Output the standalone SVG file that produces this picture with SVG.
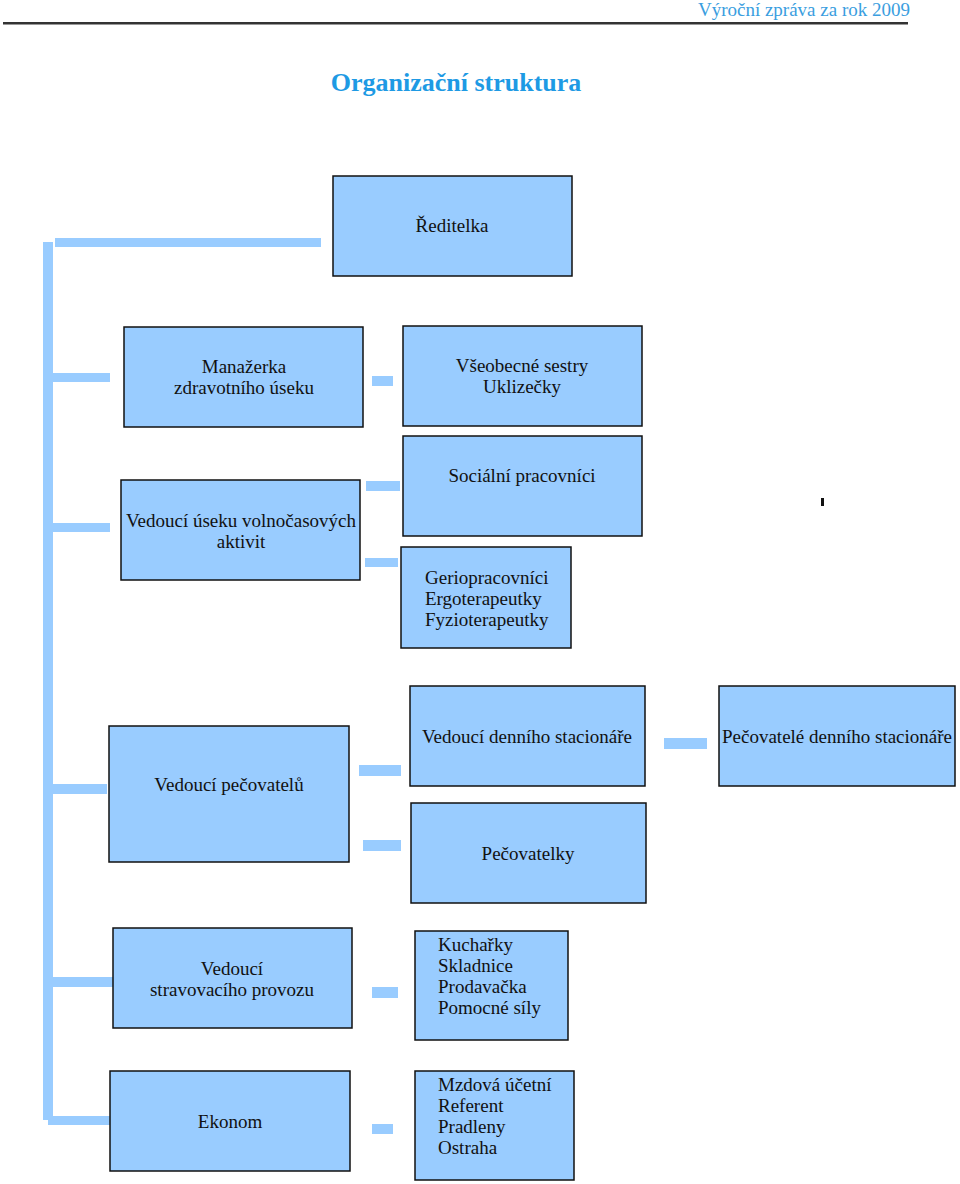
<svg xmlns="http://www.w3.org/2000/svg" width="960" height="1184" viewBox="0 0 960 1184">
<style>
.box{fill:#99ccff;stroke:#111;stroke-width:1.5}
.c{text-anchor:middle}
.conn rect{fill:#99ccff}
</style>
<rect width="960" height="1184" fill="#fff"/>
<text x="910" y="16" text-anchor="end" font-family="Liberation Serif, serif" font-size="19" fill="#3a9ee0">Výroční zpráva za rok 2009</text>
<rect x="3" y="22" width="905" height="2.5" fill="#333"/>
<text x="456" y="91" text-anchor="middle" font-family="Liberation Serif, serif" font-size="26" font-weight="bold" fill="#1e9ae4">Organizační struktura</text>
<g id="connectors" class="conn">
<rect x="43" y="242" width="10" height="878"/>
<rect x="55" y="238" width="266" height="9"/>
<rect x="53" y="373" width="57" height="9"/>
<rect x="53" y="523" width="57" height="9"/>
<rect x="53" y="784" width="54" height="10"/>
<rect x="50" y="977" width="63" height="10"/>
<rect x="48" y="1116" width="62" height="9"/>
<rect x="372" y="376" width="21" height="10"/>
<rect x="366" y="481" width="34" height="10"/>
<rect x="365" y="558" width="33" height="9"/>
<rect x="359" y="765" width="42" height="11"/>
<rect x="363" y="840" width="38" height="11"/>
<rect x="664" y="738" width="43" height="11"/>
<rect x="372" y="987" width="26" height="11"/>
<rect x="372" y="1124" width="21" height="10"/>
</g>
<rect x="821" y="498" width="3" height="8" fill="#111"/>
<g font-family="Liberation Serif, serif" font-size="19" fill="#111">
<g id="reditelka"><rect class="box" x="333" y="176" width="239" height="100"/><text class="c" x="452" y="232">Ředitelka</text></g>
<g id="manazerka"><rect class="box" x="124" y="327" width="239" height="100"/><text class="c" x="244" y="373">Manažerka</text><text class="c" x="244" y="394">zdravotního úseku</text></g>
<g id="sestry"><rect class="box" x="403" y="326" width="239" height="100"/><text class="c" x="522" y="372">Všeobecné sestry</text><text class="c" x="522" y="393">Uklizečky</text></g>
<g id="socialni"><rect class="box" x="403" y="436" width="239" height="100"/><text class="c" x="522" y="482">Sociální pracovníci</text></g>
<g id="volnocas"><rect class="box" x="121" y="480" width="239" height="100"/><text class="c" x="241" y="527">Vedoucí úseku volnočasových</text><text class="c" x="241" y="548">aktivit</text></g>
<g id="gerio"><rect class="box" x="401" y="547" width="170" height="101"/><text x="425" y="584">Geriopracovníci</text><text x="425" y="605">Ergoterapeutky</text><text x="425" y="626">Fyzioterapeutky</text></g>
<g id="vedstac"><rect class="box" x="410" y="686" width="235" height="100"/><text class="c" x="527" y="743">Vedoucí denního stacionáře</text></g>
<g id="pecstac"><rect class="box" x="719" y="686" width="236" height="100"/><text class="c" x="837" y="743">Pečovatelé denního stacionáře</text></g>
<g id="vedpec"><rect class="box" x="109" y="726" width="240" height="136"/><text class="c" x="229" y="791">Vedoucí pečovatelů</text></g>
<g id="pecovatelky"><rect class="box" x="411" y="803" width="235" height="100"/><text class="c" x="528" y="860">Pečovatelky</text></g>
<g id="strav"><rect class="box" x="113" y="928" width="239" height="100"/><text class="c" x="232" y="975">Vedoucí</text><text class="c" x="232" y="996">stravovacího provozu</text></g>
<g id="kuchyne"><rect class="box" x="415" y="931" width="153" height="109"/><text x="438" y="951">Kuchařky</text><text x="438" y="972">Skladnice</text><text x="438" y="993">Prodavačka</text><text x="438" y="1014">Pomocné síly</text></g>
<g id="ekonom"><rect class="box" x="110" y="1071" width="240" height="100"/><text class="c" x="230" y="1128">Ekonom</text></g>
<g id="ekonomicky"><rect class="box" x="415" y="1071" width="159" height="109"/><text x="438" y="1091">Mzdová účetní</text><text x="438" y="1112">Referent</text><text x="438" y="1133">Pradleny</text><text x="438" y="1154">Ostraha</text></g>
</g>
</svg>
